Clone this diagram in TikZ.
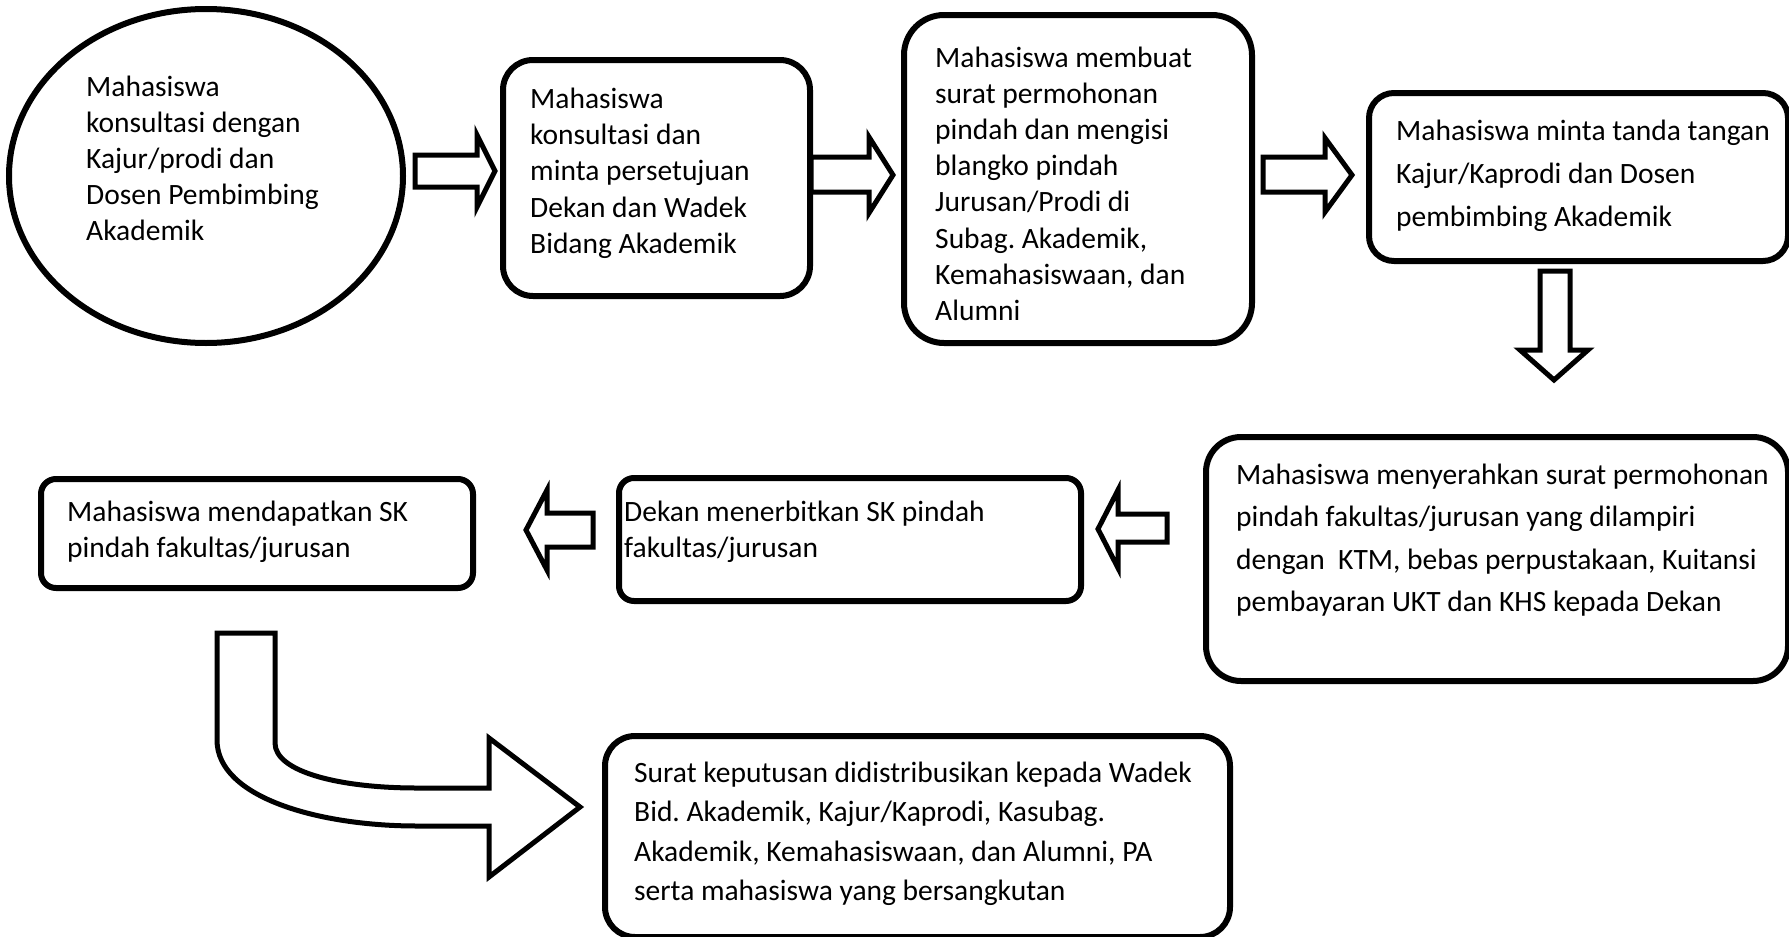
\documentclass[tikz,border=0pt]{standalone}
\usepackage{fontspec}
\setmainfont{Carlito}
\usetikzlibrary{shapes.geometric}
\frenchspacing
\newcommand{\lns}[1]{\begin{tabular}[t]{@{}l@{}}#1\end{tabular}}
\begin{document}
\begin{tikzpicture}[x=1pt,y=-1pt,
  box/.style={draw, line width=6pt, rounded corners=#1, anchor=north west, inner sep=0pt},
  oval/.style={draw, ellipse, line width=6pt, inner sep=0pt},
  blk/.style={draw, line width=5pt, fill=white, line join=miter},
  tA/.style={font=\fontsize{29.5}{36.2}\selectfont, anchor=base west, inner sep=0pt},
  tB/.style={font=\fontsize{29.5}{43.2}\selectfont, anchor=base west, inner sep=0pt},
  tC/.style={font=\fontsize{29.5}{39.5}\selectfont, anchor=base west, inner sep=0pt}]
\useasboundingbox (0,0) rectangle (1789,937);
\fill[white] (0,0) rectangle (1789,937);

% shapes
\node[oval, minimum width=394pt, minimum height=334pt] (e1) at (206,176) {};
\node[box=30pt, minimum width=307pt, minimum height=236pt] (b2) at (500,57) {};
\node[box=40pt, minimum width=348pt, minimum height=328pt] (b3) at (901,12) {};
\node[box=25pt, minimum width=419pt, minimum height=168pt] (b4) at (1366,90) {};
\node[box=35pt, minimum width=582pt, minimum height=244pt] (b5) at (1203,434) {};
\node[box=15pt, minimum width=462pt, minimum height=123pt] (b6) at (616,475) {};
\node[box=15pt, minimum width=432pt, minimum height=109pt] (b7) at (38,476) {};
\node[box=30pt, minimum width=625pt, minimum height=201pt] (b8) at (602,733) {};

% texts
\node[tA] (t1) at (86,96) {\lns{Mahasiswa\\konsultasi dengan\\Kajur/prodi dan\\Dosen Pembimbing\\Akademik}};
\node[tA] (t2) at (530,108.5) {\lns{Mahasiswa\\konsultasi dan\\minta persetujuan\\Dekan dan Wadek\\Bidang Akademik}};
\node[tA] (t3) at (935,67) {\lns{Mahasiswa membuat\\surat permohonan\\pindah dan mengisi\\blangko pindah\\Jurusan/Prodi di\\Subag. Akademik,\\Kemahasiswaan, dan\\Alumni}};
\node[tB] (t4) at (1396,140) {\lns{Mahasiswa minta tanda tangan\\Kajur/Kaprodi dan Dosen\\pembimbing Akademik}};
\node[tB, font=\fontsize{29.5}{42.6}\selectfont] (t5) at (1236,484) {\lns{Mahasiswa menyerahkan surat permohonan\\pindah fakultas/jurusan yang dilampiri\\dengan\ \ KTM, bebas perpustakaan, Kuitansi\\pembayaran UKT dan KHS kepada Dekan}};
\node[tA, font=\fontsize{29.5}{36.5}\selectfont] (t6) at (624,521) {\lns{Dekan menerbitkan SK pindah\\fakultas/jurusan}};
\node[tA, font=\fontsize{29.5}{36.5}\selectfont] (t7) at (67,521) {\lns{Mahasiswa mendapatkan SK\\pindah fakultas/jurusan}};
\node[tC] (t8) at (634,782) {\lns{Surat keputusan didistribusikan kepada Wadek\\Bid. Akademik, Kajur/Kaprodi, Kasubag.\\Akademik, Kemahasiswaan, dan Alumni, PA\\serta mahasiswa yang bersangkutan}};

% block arrows
\draw[blk] (415,155) -- (477,155) -- (477,135) -- (495,171) -- (477,207) -- (477,187) -- (415,187) -- cycle;
\draw[blk] (811,157) -- (869,157) -- (869,137) -- (893,175) -- (869,213) -- (869,192) -- (811,192) -- cycle;
\draw[blk] (1263,157) -- (1325,157) -- (1325,138) -- (1352,175) -- (1325,212) -- (1325,192) -- (1263,192) -- cycle;
\draw[blk] (1540,271) -- (1570,271) -- (1570,350) -- (1588,350) -- (1554,380) -- (1520,350) -- (1540,350) -- cycle;
\draw[blk] (1167,514) -- (1118,514) -- (1118,490) -- (1098,529) -- (1118,568) -- (1118,542) -- (1167,542) -- cycle;
\draw[blk] (593,513) -- (547,513) -- (547,490) -- (526,530) -- (547,570) -- (547,547) -- (593,547) -- cycle;
\draw[blk] (217,633) -- (217,740) .. controls (217,798) and (320,826) .. (417,826)
  -- (489,826) -- (489,877) -- (580,807) -- (489,738) -- (489,788) -- (417,788)
  .. controls (340,788) and (275,772) .. (275,743) -- (275,633) -- cycle;
\end{tikzpicture}
\end{document}
